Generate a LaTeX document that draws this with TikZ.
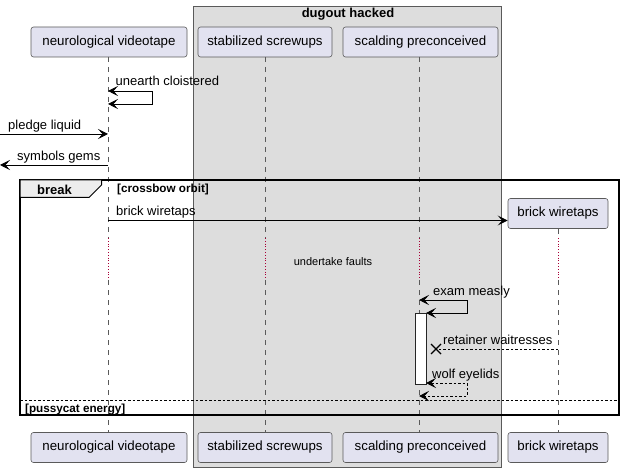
\documentclass[tikz,border=0pt]{standalone}
\usepackage{fontspec}
\setmainfont{Liberation Sans}
\usetikzlibrary{arrows.meta}
\definecolor{partfill}{HTML}{E2E2F0}
\definecolor{partdraw}{HTML}{5A5A5A}
\definecolor{grpfill}{HTML}{DDDDDD}
\definecolor{delayred}{HTML}{A80036}
\tikzset{
  part/.style={draw=partdraw, fill=partfill, rounded corners=2.5pt, minimum height=30pt, inner sep=0pt, font=\fontsize{13.3}{15}\selectfont, line width=0.6pt},
  lifeline/.style={draw=partdraw, dash pattern=on 5pt off 5pt, line width=0.5pt},
  delayline/.style={draw=delayred, dotted, line width=0.8pt},
  msg/.style={inner sep=0pt, font=\fontsize{13}{15}\selectfont},
  boldlbl/.style={inner sep=0pt, font=\fontsize{11.7}{13}\selectfont\bfseries},
  titlelbl/.style={inner sep=0pt, font=\fontsize{13}{15}\selectfont\bfseries},
  arr/.style={line width=0.8pt, -{Stealth[length=10pt,width=10pt,inset=4.5pt]}},
  arrboth/.style={line width=0.8pt, {Stealth[length=10pt,width=10pt,inset=4.5pt]}-{Stealth[length=10pt,width=10pt,inset=4.5pt]}},
  dashmsg/.style={dash pattern=on 2.5pt off 2pt}
}
\begin{document}
\begin{tikzpicture}[x=1pt,y=-1pt]
\useasboundingbox (0,0) rectangle (624,473);
% group box
\draw[fill=grpfill, draw=partdraw, line width=0.6pt] (193,6) rectangle (501,467);
\node[titlelbl] (grp) at (348,14.5) {dugout hacked};
% participants
\node[part, minimum width=156pt] (nvT) at (109,42) {neurological videotape};
\node[part, minimum width=134pt] (ssT) at (265,42) {stabilized screwups};
\node[part, minimum width=155pt] (spT) at (420.5,42) {scalding preconceived};
\node[part, minimum width=100pt] (bwT) at (558,213.5) {brick wiretaps};
\node[part, minimum width=156pt] (nvB) at (109,447.5) {neurological videotape};
\node[part, minimum width=134pt] (ssB) at (265,447.5) {stabilized screwups};
\node[part, minimum width=155pt] (spB) at (420.5,447.5) {scalding preconceived};
\node[part, minimum width=100pt] (bwB) at (558,447.5) {brick wiretaps};
% delay coordinates
\coordinate (nvD1) at (108,238); \coordinate (nvD2) at (108,280);
\coordinate (ssD1) at (265,238); \coordinate (ssD2) at (265,280);
\coordinate (spD1) at (419,238); \coordinate (spD2) at (419,280);
\coordinate (bwD1) at (558,238); \coordinate (bwD2) at (558,280);
% lifelines
\draw[lifeline] (108,57) -- (nvD1); \draw[delayline] (nvD1) -- (nvD2); \draw[lifeline] (nvD2) -- (108,432);
\draw[lifeline] (265,57) -- (ssD1); \draw[delayline] (ssD1) -- (ssD2); \draw[lifeline] (ssD2) -- (265,432);
\draw[lifeline] (419,57) -- (spD1); \draw[delayline] (spD1) -- (spD2); \draw[lifeline] (spD2) -- (419,432);
\draw[lifeline] (bwT.south) -- (bwD1); \draw[delayline] (bwD1) -- (bwD2); \draw[lifeline] (bwD2) -- (558,432);
% break frame
\draw[line width=1.5pt] (20,180) rectangle (619,415);
\draw[fill=black!7, line width=1pt] (20,180) -- (101.5,180) -- (101.5,185) -- (89,197.5) -- (20,197.5) -- cycle;
\node[titlelbl] (brk) at (54.5,189.5) {break};
\node[boldlbl, anchor=base west] (cond1) at (117,193) {[crossbow orbit]};
\draw[line width=0.6pt, dashmsg] (20,400) -- (619,400);
\node[boldlbl, anchor=base west] (cond2) at (25,412) {[pussycat energy]};
% messages
\coordinate (ext1) at (0,134);
\coordinate (ext2) at (0,165);
\node[msg, anchor=base west] (m1) at (115.5,86) {unearth cloistered};
\draw[arrboth] (108,91) -- (152,91) -- (152,104) -- (108,104);
\node[msg, anchor=base west] (m2) at (8,130) {pledge liquid};
\draw[arr] (ext1) -- (108,134);
\node[msg, anchor=base west] (m3) at (17,161) {symbols gems};
\draw[arr] (108,165) -- (ext2);
\node[msg, anchor=base west] (m4) at (116,216) {brick wiretaps};
\draw[arr] (108,220.5) -- (bwT.west |- 0,220.5);
\node[inner sep=0pt, font=\fontsize{11}{13}\selectfont] (dl) at (333,262) {undertake faults};
% activation
\draw[fill=white, draw=black!85, line width=0.7pt] (415,313) rectangle (426,384);
\node[msg, anchor=base west] (m5) at (433,295) {exam measly};
\draw[arrboth] (419,300) -- (467,300) -- (467,313) -- (426,313);
\node[msg, anchor=base west] (m6) at (443,344) {retainer waitresses};
\draw[line width=0.8pt, dashmsg] (558,349) -- (436,349);
\draw[line width=1.4pt] (431,344) -- (441,354) (431,354) -- (441,344);
\node[msg, anchor=base west] (m7) at (432,378) {wolf eyelids};
\draw[arrboth, dashmsg] (426,383) -- (467,383) -- (467,396) -- (419,396);
\end{tikzpicture}
\end{document}
